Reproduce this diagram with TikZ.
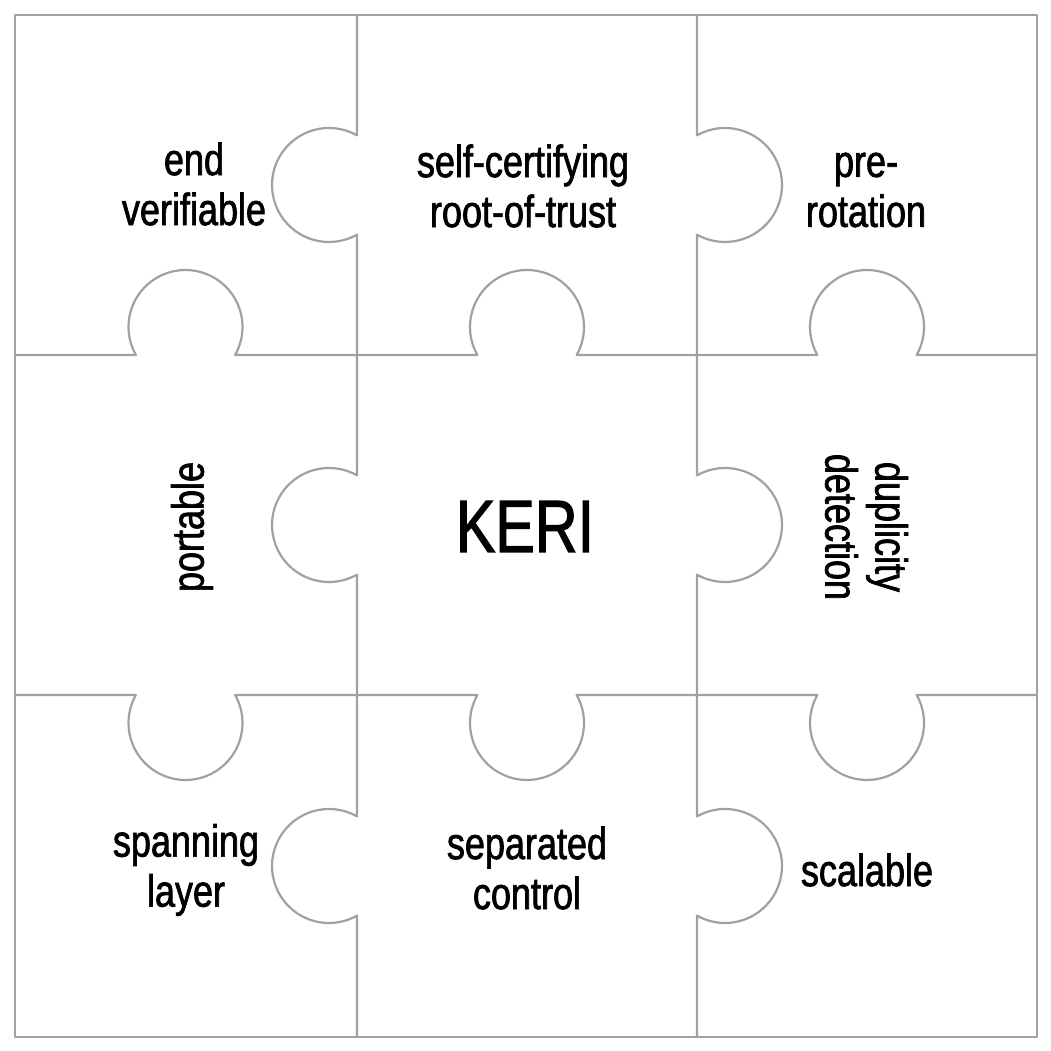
\documentclass[tikz,border=0pt]{standalone}
\usepackage{fontspec}
\setmainfont{Liberation Sans}[FakeStretch=0.8, FakeBold=1.5]
\begin{document}
\begin{tikzpicture}[x=1pt,y=1pt,
  edge/.style={draw=black!37, line width=2.2pt, line join=round},
  lbl/.style={font=\fontsize{45}{50}\selectfont, align=center, inner sep=0pt},
  big/.style={font=\fontsize{74}{80}\selectfont, inner sep=0pt}]
\useasboundingbox (0,0) rectangle (1051,1051);
% outer frame
\draw[edge] (15,14) rectangle (1037,1036);
% vertical line x=357, knobs bulge left
\draw[edge] (357,1036)
  -- (357,915.65) arc[start angle=60.58, end angle=299.42, radius=57]
  -- (357,575.65) arc[start angle=60.58, end angle=299.42, radius=57]
  -- (357,234.65) arc[start angle=60.58, end angle=299.42, radius=57]
  -- (357,14);
% vertical line x=697, knobs bulge right
\draw[edge] (697,1036)
  -- (697,915.65) arc[start angle=119.42, end angle=-119.42, radius=57]
  -- (697,575.65) arc[start angle=119.42, end angle=-119.42, radius=57]
  -- (697,234.65) arc[start angle=119.42, end angle=-119.42, radius=57]
  -- (697,14);
% horizontal line Y=696, knobs bulge up
\draw[edge] (15,696)
  -- (135.85,696) arc[start angle=209.42, end angle=-29.42, radius=57]
  -- (477.35,696) arc[start angle=209.42, end angle=-29.42, radius=57]
  -- (817.35,696) arc[start angle=209.42, end angle=-29.42, radius=57]
  -- (1037,696);
% horizontal line Y=356, knobs bulge down
\draw[edge] (15,356)
  -- (135.85,356) arc[start angle=150.58, end angle=389.42, radius=57]
  -- (477.35,356) arc[start angle=150.58, end angle=389.42, radius=57]
  -- (817.35,356) arc[start angle=150.58, end angle=389.42, radius=57]
  -- (1037,356);
% labels
\node[lbl] (ev) at (194,867) {end\\verifiable};
\node[lbl] (sc) at (523,865) {self-certifying\\root-of-trust};
\node[lbl] (pr) at (866,861) {pre-\\rotation};
\node[lbl, rotate=90] (po) at (192,524) {portable};
\node[big] (keri) at (525,524.5) {KERI};
\node[lbl, rotate=-90] (dd) at (866.5,524) {duplicity\\detection};
\node[lbl] (sl) at (186,181) {spanning\\layer};
\node[lbl] (sp) at (527,183) {separated\\control};
\node[lbl] (sa) at (867,181) {scalable};
\end{tikzpicture}
\end{document}
